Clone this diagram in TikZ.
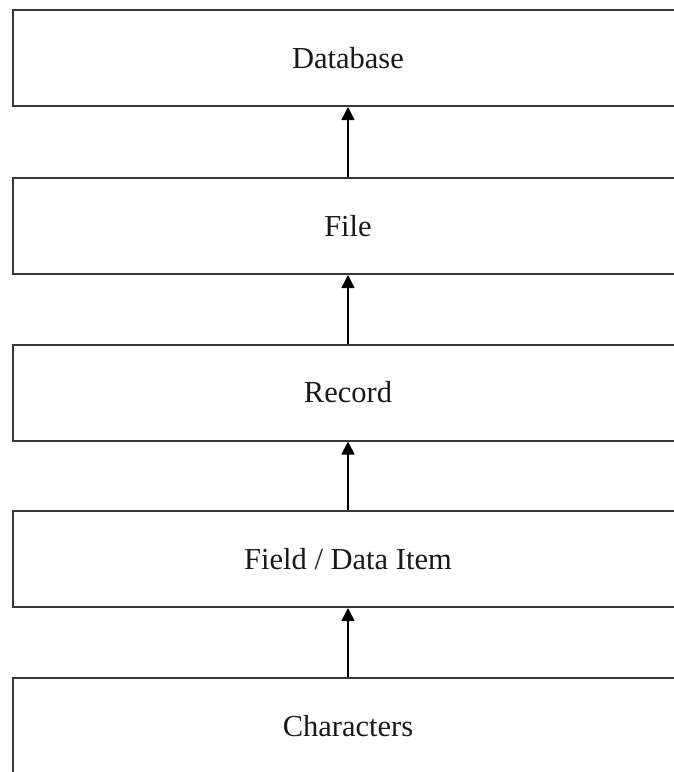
\documentclass[tikz,border=0pt]{standalone}
\usepackage{fontspec}
\setmainfont{Liberation Serif}
\usetikzlibrary{arrows.meta}
\tikzset{
  levelbox/.style={draw=black!78, line width=2pt, rectangle, minimum width=670pt, minimum height=96pt, inner sep=0pt, font=\fontsize{30.5}{36}\selectfont, text=black!90},
  uparrow/.style={draw=black, line width=1.5pt, -{Triangle[length=13pt,width=13pt]}, shorten >=0pt}
}
\begin{document}
\begin{tikzpicture}[x=1pt,y=-1pt]
\useasboundingbox (0,0) rectangle (673,772);
\node[levelbox] (db) at (348,58) {Database};
\node[levelbox] (file) at (348,226) {File};
\node[levelbox] (rec) at (348,392.5) {Record};
\node[levelbox] (field) at (348,559) {Field / Data Item};
\node[levelbox] (chars) at (348,726) {Characters};
\draw[uparrow] (file.north) -- (db.south);
\draw[uparrow] (rec.north) -- (file.south);
\draw[uparrow] (field.north) -- (rec.south);
\draw[uparrow] (chars.north) -- (field.south);
\end{tikzpicture}
\end{document}
